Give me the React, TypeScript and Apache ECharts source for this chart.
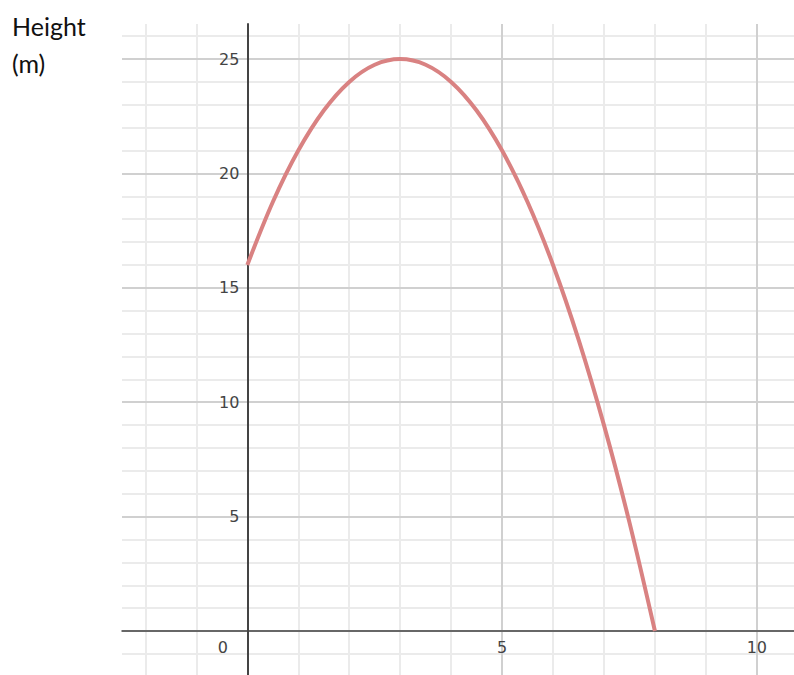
import React, { useEffect, useRef } from "react";
import * as echarts from "echarts";

// Data
const timeValues = [0, 0.5, 1, 1.5, 2, 2.5, 3, 3.5, 4, 4.5, 5, 5.5, 6, 6.5, 7, 7.5, 8];
const heightValues = [16, 18.75, 21, 22.75, 24, 24.75, 25, 24.75, 24, 22.75, 21, 18.75, 16, 12.75, 9, 4.75, 0];
const xTickLabels = [0, 5, 10];
const yTickLabels = [5, 10, 15, 20, 25];
const axisTitleLines = ["Height", "(m)"];

const X_MIN = -2.46;
const X_MAX = 10.73;
const Y_MIN = -1.92;
const Y_MAX = 26.53;

const W = 794;
const H = 675;
const GRID_LEFT = 122;
const GRID_TOP = 24;
const PLOT_W = W - GRID_LEFT;
const PLOT_H = H - GRID_TOP;
// place the axes through the origin (shift inward from the grid edges)
const X_AXIS_OFFSET = -((0 - Y_MIN) / (Y_MAX - Y_MIN)) * PLOT_H;
const Y_AXIS_OFFSET = -((0 - X_MIN) / (X_MAX - X_MIN)) * PLOT_W;

const labelFont = {
  fontFamily: "DejaVu Sans",
  fontSize: 16,
  color: "#444",
};

export default function App() {
  const ref = useRef<HTMLDivElement>(null);

  useEffect(() => {
    if (!ref.current) return;
    const chart = echarts.init(ref.current, null, { renderer: "svg" });

    const points = timeValues.map((t, i) => [t, heightValues[i]]);

    const option: any = {
      animation: false,
      backgroundColor: "#ffffff",
      grid: {
        left: GRID_LEFT,
        right: 0,
        top: GRID_TOP,
        bottom: 0,
        containLabel: false,
        outerBoundsMode: "none",
      },
      graphic: [
        {
          type: "text",
          x: 12,
          y: 26,
          style: {
            text: axisTitleLines[0],
            fontFamily: "Lato",
            fontSize: 25,
            fill: "#111",
            align: "left",
            verticalAlign: "middle",
          },
        },
        {
          type: "text",
          x: 12,
          y: 63,
          style: {
            text: axisTitleLines[1],
            fontFamily: "Lato",
            fontSize: 25,
            fill: "#111",
            align: "left",
            verticalAlign: "middle",
          },
        },
      ],
      xAxis: [
        {
          type: "value",
          position: "bottom",
          offset: X_AXIS_OFFSET,
          min: X_MIN,
          max: X_MAX,
          minInterval: 5,
          maxInterval: 5,
          z: 1,
          axisLine: { show: true, onZero: false, lineStyle: { color: "#444", width: 1.5 } },
          axisTick: { show: false },
          axisLabel: {
            ...labelFont,
            margin: 8,
            showMinLabel: false,
            showMaxLabel: false,
            formatter: (v: number) => {
              if (!xTickLabels.includes(v)) return "";
              return v === 0 ? "{z|0}" : String(v);
            },
            rich: {
              z: { ...labelFont, padding: [0, 49, 0, 0] },
            },
          },
          splitLine: {
            show: true,
            showMinLine: false,
            showMaxLine: false,
            lineStyle: { color: "#d0d0d0", width: 2 },
          },
        },
        {
          type: "value",
          min: X_MIN,
          max: X_MAX,
          minInterval: 1,
          maxInterval: 1,
          z: 0,
          axisLine: { show: false, onZero: false },
          axisTick: { show: false },
          axisLabel: { show: false },
          splitLine: {
            show: true,
            showMinLine: false,
            showMaxLine: false,
            lineStyle: { color: "#ebebeb", width: 2 },
          },
        },
      ],
      yAxis: [
        {
          type: "value",
          position: "left",
          offset: Y_AXIS_OFFSET,
          min: Y_MIN,
          max: Y_MAX,
          minInterval: 5,
          maxInterval: 5,
          z: 1,
          axisLine: { show: true, onZero: false, lineStyle: { color: "#444", width: 2 } },
          axisTick: { show: false },
          axisLabel: {
            ...labelFont,
            margin: 8,
            showMinLabel: false,
            showMaxLabel: false,
            formatter: (v: number) => (yTickLabels.includes(v) ? String(v) : ""),
          },
          splitLine: {
            show: true,
            showMinLine: false,
            showMaxLine: false,
            lineStyle: { color: "#d0d0d0", width: 2 },
          },
        },
        {
          type: "value",
          min: Y_MIN,
          max: Y_MAX,
          minInterval: 1,
          maxInterval: 1,
          z: 0,
          axisLine: { show: false, onZero: false },
          axisTick: { show: false },
          axisLabel: { show: false },
          splitLine: {
            show: true,
            showMinLine: false,
            showMaxLine: false,
            lineStyle: { color: "#ebebeb", width: 2 },
          },
        },
      ],
      series: [
        {
          type: "line",
          xAxisIndex: 0,
          yAxisIndex: 0,
          data: points,
          smooth: 0.35,
          showSymbol: false,
          symbol: "none",
          z: 2,
          lineStyle: { color: "#d98282", width: 4 },
        },
      ],
    };

    chart.setOption(option);
    return () => chart.dispose();
  }, []);

  return (
    <div
      ref={ref}
      style={{ position: "fixed", left: 0, top: 0, width: W, height: H, background: "#fff" }}
    />
  );
}
